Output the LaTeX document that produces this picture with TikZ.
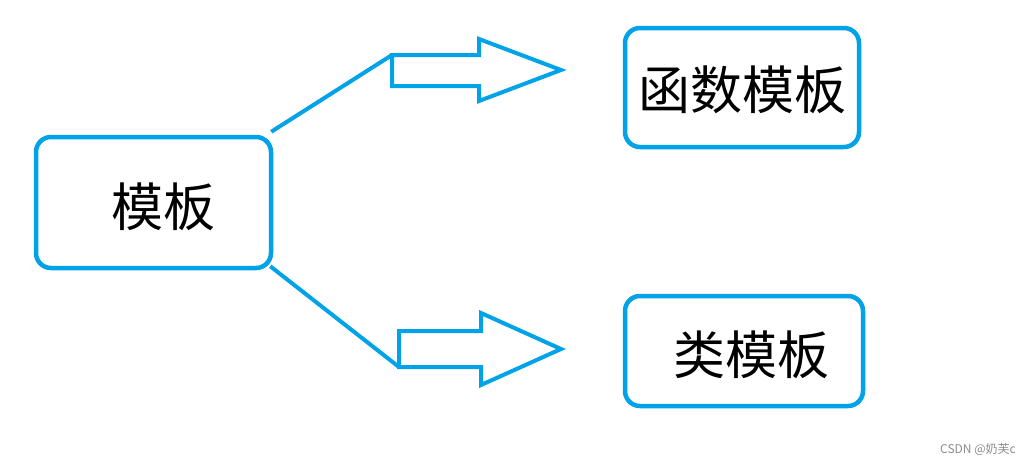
\documentclass[tikz,border=0pt]{standalone}
\usepackage{fontspec}
\newfontfamily\cjk{Noto Sans CJK SC}
\usepackage{tikz}
\usetikzlibrary{calc}
\usepackage{xcolor}
\definecolor{paintblue}{RGB}{0,162,232}

\begin{document}
\begin{tikzpicture}[x=1pt,y=-1pt,
    box/.style={draw=paintblue,line width=4.5pt,rounded corners=15pt,inner sep=0pt},
    lbl/.style={inner sep=0pt,font=\cjk\fontsize{52}{60}\selectfont},
    link/.style={paintblue,line width=4pt},
    blockarrow/.style={draw=paintblue,line width=4pt,line join=miter}]
  \useasboundingbox (0,0) rectangle (1036,464);

  % Draw boxes
  \node[box,minimum width=235pt,minimum height=131pt] (tmpl) at (153.5,202.5) {};
  \node[box,minimum width=234pt,minimum height=119pt] (func) at (742,87.5) {};
  \node[box,minimum width=238pt,minimum height=110pt] (cls) at (744,351) {};

  % Labels
  \node[lbl] (tmpltxt) at ([shift={(10,4.5)}]tmpl.center) {模板};
  \node[lbl] (functxt) at ([shift={(0,2.5)}]func.center) {函数模板};
  \node[lbl] (clstxt) at ([shift={(7,4)}]cls.center) {类模板};

  % Draw block arrows
  \coordinate (up) at (392,55);
  \coordinate (down) at (399,331);
  \draw[blockarrow] (up) -- ++(87,0) -- ++(0,-16) -- (561,70) -- (479,101)
    -- (479,86) -- (392,86) -- cycle;
  \draw[blockarrow] (down) -- ++(82,0) -- ++(0,-18) -- (561,349) -- (481,385)
    -- (481,367) -- (399,367) -- cycle;

  % Draw links
  \draw[link] ([shift={(-2,-3)}]tmpl.north east) -- (up);
  \draw[link] ([shift={(-3,-4)}]tmpl.south east) -- ($(down)+(0,36)$);

  % Watermark
  \node[inner sep=0pt,text=gray!90,font=\cjk\fontsize{12}{14}\selectfont] (mark) at (978,449) {CSDN @奶芙c};
\end{tikzpicture}
\end{document}
